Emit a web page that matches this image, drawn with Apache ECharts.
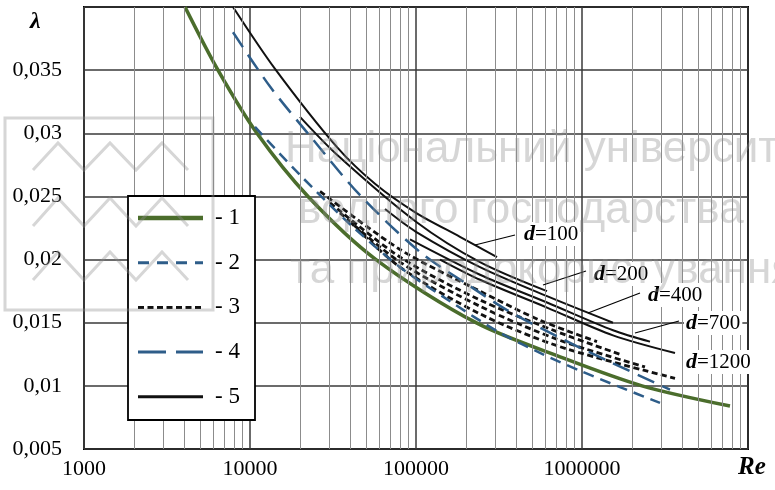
<!DOCTYPE html>
<html><head><meta charset="utf-8">
<script src="https://cdn.jsdelivr.net/npm/echarts@6/dist/echarts.min.js"></script>
<style>html,body{margin:0;padding:0;background:#fff}#c{width:775px;height:490px}</style>
</head><body><div id="c"></div>
<script>
// ---- data (Re, lambda) ----
const xTickLabels = ['1000', '10000', '100000', '1000000'];
const yTickValues = [0.005, 0.01, 0.015, 0.02, 0.025, 0.03, 0.035, 0.04];

const curve1 = [[4059,0.0400],[6415,0.0350],[11020,0.0300],[22360,0.0250],[57410,0.0200],[229900,0.0150],[737000,0.0123],[2298000,0.0100],[7790000,0.0084]];
const curve2 = [[10720,0.0305],[20000,0.0267],[40040,0.0228],[80100,0.0194],[160300,0.0167],[320700,0.0142],[582300,0.0125],[972600,0.0112],[1694000,0.0099],[2951000,0.00865]];
const curve3a = [[26410,0.0254],[80100,0.0208],[243000,0.0175],[558000,0.0152],[1231000,0.0135]];
const curve3b = [[30340,0.0245],[80100,0.0202],[243000,0.0168],[737000,0.0142],[1694000,0.0125]];
const curve3c = [[34850,0.0237],[80100,0.0198],[243000,0.0163],[737000,0.0136],[2396000,0.0115]];
const curve3d = [[40040,0.0230],[80100,0.0194],[243000,0.0157],[737000,0.0131],[3633000,0.0106]];
const curve4 = [[7900,0.0380],[13200,0.0337],[23960,0.0295],[46000,0.0251],[105700,0.0206],[211500,0.0179],[353400,0.0160],[790000,0.0136],[1475000,0.0119],[3389000,0.0097]];
const curve5_d100 = [[7900,0.0400],[14150,0.0351],[33430,0.0289],[56620,0.0260],[100000,0.0237],[184000,0.0218],[307600,0.0202]];
const curve5_d200 = [[20000,0.0313],[33430,0.0283],[100000,0.0230],[243000,0.0198],[615500,0.0175]];
const curve5_d400 = [[65070,0.0240],[100000,0.0222],[243000,0.0194],[615500,0.0171],[1537000,0.0150]];
const curve5_d700 = [[92000,0.0216],[243000,0.0188],[615500,0.0166],[1537000,0.0144],[2568000,0.0135]];
const curve5_d1200 = [[139500,0.0200],[243000,0.0184],[615500,0.0162],[1537000,0.0140],[3633000,0.0126]];
const legendNames = ['- 1', '- 2', '- 3', '- 4', '- 5'];
const dLabels = ['100', '200', '400', '700', '1200'];

// ---- styles ----
const GREEN = '#4b6d2c', BLUE = '#2e5d89', BLACK = '#111';
const SERIF = "'Liberation Serif', serif";
const SANS = "'Liberation Sans', sans-serif";

const minorX = [];
for (let dec = 1000; dec < 1e7; dec *= 10) for (let k = 2; k <= 9; k++) minorX.push(dec * k);

function lineSeries(name, data, color, width, type, z) {
  return { name, type: 'line', data, smooth: 0.3, showSymbol: false, symbol: 'none', clip: true, z: z || 3,
    lineStyle: { color, width, type, cap: 'butt' }, silent: true };
}

const series = [
  { type: 'line', data: [], z: 1, silent: true,
    markLine: { silent: true, symbol: 'none', label: { show: false }, animation: false,
      lineStyle: { color: '#8c8c8c', width: 1, type: 'solid' },
      data: minorX.map(v => ({ xAxis: v })) } },
  lineSeries('3', curve3a, BLACK, 2.8, [6, 3.5]),
  lineSeries('3', curve3b, BLACK, 2.8, [6, 3.5]),
  lineSeries('3', curve3c, BLACK, 2.8, [6, 3.5]),
  lineSeries('3', curve3d, BLACK, 2.8, [6, 3.5]),
  lineSeries('1', curve1, GREEN, 3.6, 'solid', 4),
  lineSeries('2', curve2, BLUE, 2.5, [11, 7], 5),
  lineSeries('4', curve4, BLUE, 2.5, [18, 9], 5),
  lineSeries('5', curve5_d100, BLACK, 2, 'solid'),
  lineSeries('5', curve5_d200, BLACK, 2, 'solid'),
  lineSeries('5', curve5_d400, BLACK, 2, 'solid'),
  lineSeries('5', curve5_d700, BLACK, 2, 'solid'),
  lineSeries('5', curve5_d1200, BLACK, 2, 'solid')
];

// legend drawn as a boxed key
const legendStyles = [
  { stroke: GREEN, lineWidth: 4.5, lineDash: null },
  { stroke: BLUE, lineWidth: 3, lineDash: [11, 8] },
  { stroke: BLACK, lineWidth: 3, lineDash: [6, 3.5] },
  { stroke: BLUE, lineWidth: 3, lineDash: [28, 10] },
  { stroke: BLACK, lineWidth: 3, lineDash: null }
];
const gfx = [];
gfx.push({ type: 'rect', z: 50, shape: { x: 128, y: 196, width: 127, height: 224 },
  style: { fill: '#fff', stroke: '#000', lineWidth: 1.8 } });
legendNames.forEach((n, i) => {
  const y = 218 + i * 44.7;
  gfx.push({ type: 'line', z: 51, shape: { x1: 138, y1: y, x2: 203, y2: y },
    style: Object.assign({ lineCap: 'butt' }, legendStyles[i]) });
  gfx.push({ type: 'text', z: 51, x: 215, y: y, style: { text: n, font: '23px ' + SERIF, fill: '#000', verticalAlign: 'middle' } });
});

// d= labels and leader lines
const dPos = [[522, 234], [592, 274], [646, 295], [684, 323], [684, 362]];
const leaders = [[475, 245, 515, 235], [543, 285, 586, 271], [588, 313, 640, 293], [635, 333, 679, 321]];
dLabels.forEach((t, i) => {
  gfx.push({ type: 'text', x: dPos[i][0], y: dPos[i][1], z: 45,
    style: { text: '{i|d}{n|=' + t + '}', fill: '#000', verticalAlign: 'middle', backgroundColor: '#fff', padding: [1, 2],
      rich: { i: { fontStyle: 'italic', fontWeight: 'bold', fontSize: 22, fontFamily: SERIF, fill: '#000' },
              n: { fontSize: 21, fontFamily: SERIF, fill: '#000' } } } });
});
leaders.forEach(l => gfx.push({ type: 'line', z: 44, shape: { x1: l[0], y1: l[1], x2: l[2], y2: l[3] }, style: { stroke: '#000', lineWidth: 1.2 } }));

// faint watermark
const WM = 'rgba(140,140,140,0.36)';
const zig = (y0, y1) => ({ type: 'polyline', z: 60, silent: true, shape: { points: [[33, y1], [58, y0], [84, y1], [110, y0], [136, y1], [162, y0], [188, y1]] },
  style: { stroke: WM, lineWidth: 3, fill: null } });
gfx.push({ type: 'rect', z: 60, silent: true, shape: { x: 5, y: 118, width: 208, height: 192 }, style: { fill: null, stroke: WM, lineWidth: 3 } });
gfx.push(zig(143, 170), zig(198, 226), zig(252, 280));
[['Національний університет', 285, 150], ['водного господарства', 298, 211], ['та природокористування', 290, 271]].forEach(w => {
  gfx.push({ type: 'text', z: 60, silent: true, x: w[1], y: w[2], style: { text: w[0], font: '44px ' + SANS, fill: WM, verticalAlign: 'middle' } });
});
gfx.push({ type: 'text', z: 45, x: 30, y: 22, style: { text: 'λ', font: 'italic bold 24px ' + SERIF, fill: '#000', verticalAlign: 'middle' } });
gfx.push({ type: 'text', z: 45, x: 738, y: 468, style: { text: 'Re', font: 'italic bold 25px ' + SERIF, fill: '#000', verticalAlign: 'middle' } });

const chart = echarts.init(document.getElementById('c'), null, { renderer: 'canvas' });
chart.setOption({
  animation: false,
  backgroundColor: '#fff',
  grid: { left: 84, right: 27, top: 7, bottom: 41, show: true, borderColor: '#000', borderWidth: 2, backgroundColor: 'transparent' },
  xAxis: { type: 'log', logBase: 10, min: 1000, max: 1e7,
    axisLine: { show: false }, axisTick: { show: false },
    splitLine: { show: true, lineStyle: { color: '#3a3a3a', width: 1.5 } },
    axisLabel: { margin: 9, fontFamily: SERIF, fontSize: 22, color: '#000',
      formatter: v => { const i = Math.round(Math.log10(v)) - 3; return i >= 0 && i < xTickLabels.length ? xTickLabels[i] : ''; } } },
  yAxis: { type: 'value', min: yTickValues[0], max: yTickValues[yTickValues.length - 1], interval: 0.005,
    axisLine: { show: false }, axisTick: { show: false },
    splitLine: { show: true, lineStyle: { color: '#3a3a3a', width: 1.5 } },
    axisLabel: { margin: 22, fontFamily: SERIF, fontSize: 22, color: '#000',
      formatter: v => v > 0.0395 ? '' : String(+v.toFixed(3)).replace('.', ',') } },
  series,
  graphic: gfx
});
</script></body></html>
